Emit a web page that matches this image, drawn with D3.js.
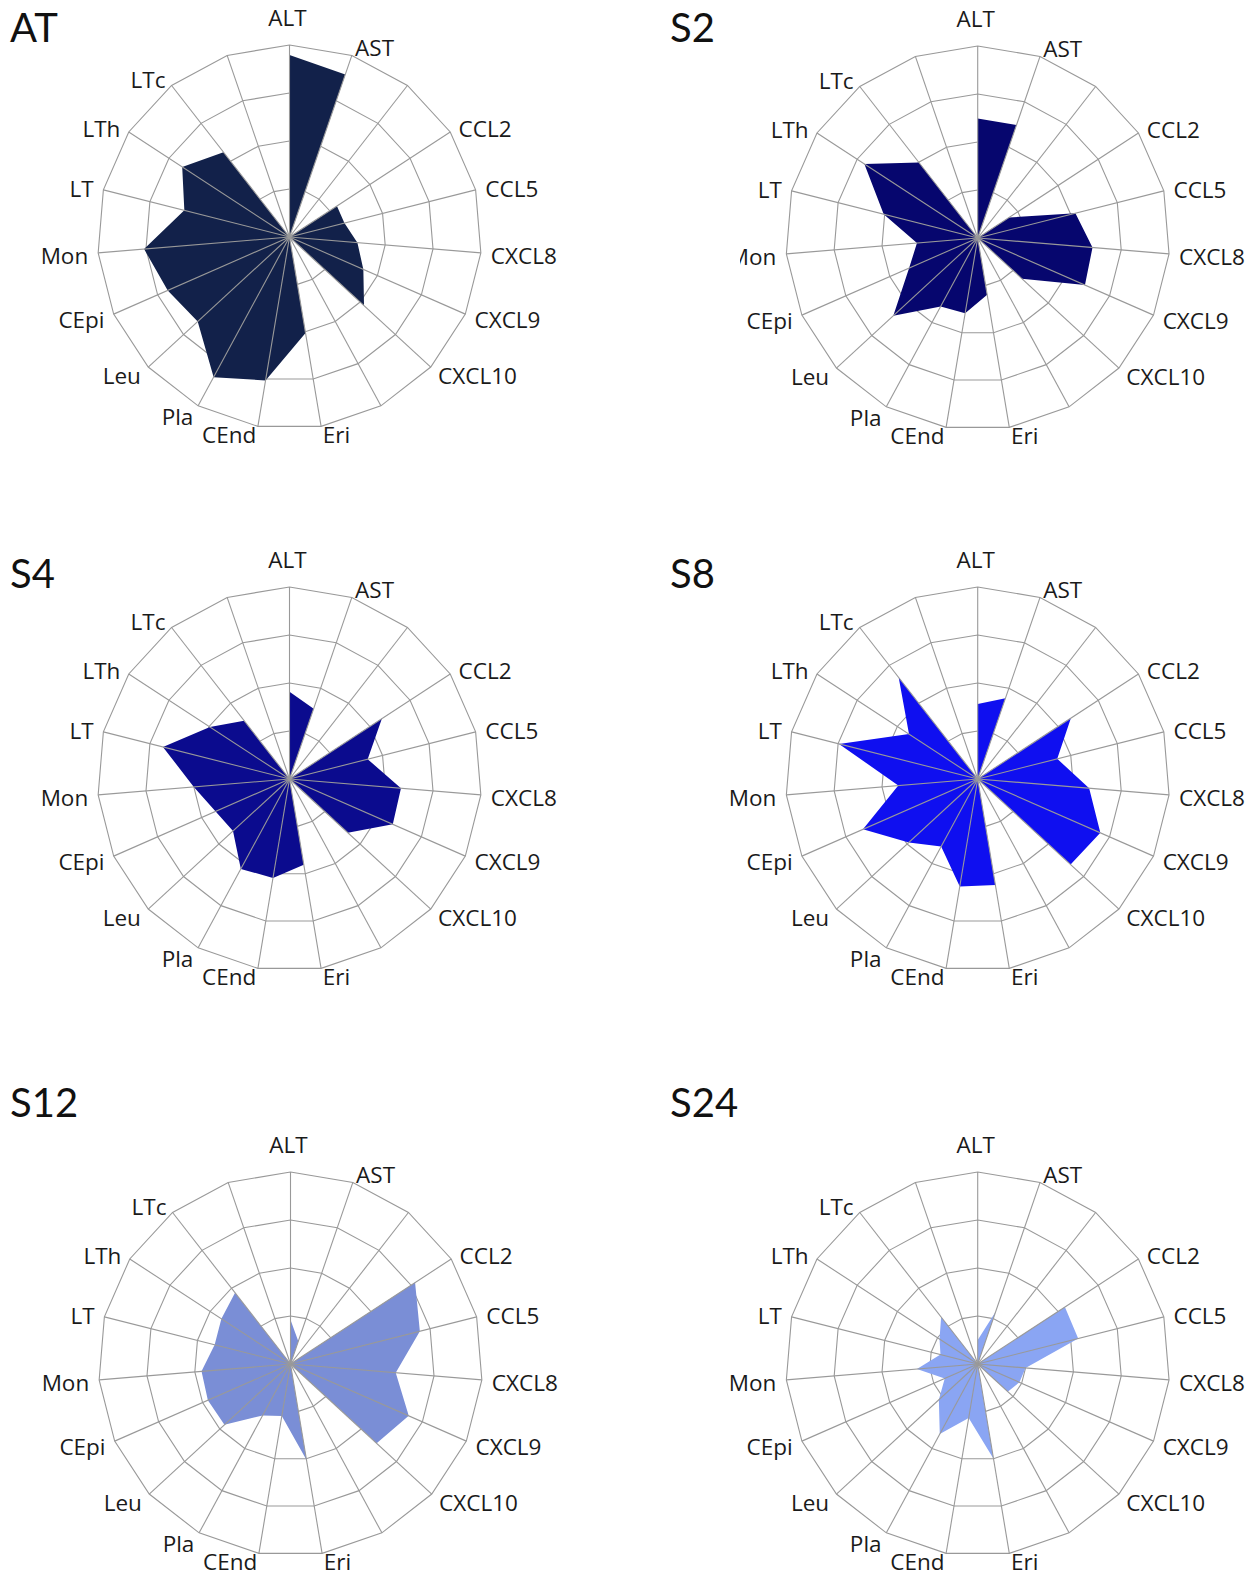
<!DOCTYPE html>
<html>
<head>
<meta charset="utf-8">
<script src="https://cdn.jsdelivr.net/npm/d3@7"></script>
<style>
  html, body { margin: 0; padding: 0; background: #ffffff; }
  svg { display: block; }
</style>
</head>
<body>
<script>
// ---------- DATA ----------
const categories = ["ALT", "AST", "", "CCL2", "CCL5", "CXCL8", "CXCL9", "CXCL10", "",
                    "Eri", "CEnd", "Pla", "Leu", "CEpi", "Mon", "LT", "LTh", "LTc", ""];
const panelNames = ["AT", "S2", "S4", "S8", "S12", "S24"];
const ringTicks = [1, 2, 3, 4];

const valuesAT  = [3.79, 3.58, 0, 1.18, 1.18, 1.42, 1.68, 2.11, 0, 2.03, 3.03, 3.32, 2.60, 2.77, 3.04, 2.26, 2.67, 2.24, 0];
const valuesS2  = [2.49, 2.49, 0, 0.78, 2.10, 2.40, 2.44, 1.25, 0, 1.20, 1.59, 1.62, 2.39, 1.56, 1.27, 2.02, 2.82, 1.99, 0];
const valuesS4  = [1.82, 1.55, 0, 2.30, 1.68, 2.33, 2.35, 1.65, 0, 1.81, 2.09, 2.13, 1.60, 1.68, 2.00, 2.72, 1.98, 1.54, 0];
const valuesS8  = [1.56, 1.78, 0, 2.32, 1.71, 2.33, 2.79, 2.63, 0, 2.24, 2.27, 1.60, 1.95, 2.61, 1.66, 2.98, 1.71, 2.68, 0];
const valuesS12 = [0.92, 0.50, 0, 3.10, 2.78, 2.20, 2.69, 2.44, 0, 2.03, 1.10, 1.22, 1.87, 1.88, 1.86, 1.63, 1.72, 1.88, 0];
const valuesS24 = [0.50, 1.15, 0, 2.17, 2.16, 1.00, 0.95, 0.85, 0, 2.00, 1.14, 1.66, 1.10, 0.75, 1.27, 0.80, 0.95, 1.24, 0];

const seriesValues = [valuesAT, valuesS2, valuesS4, valuesS8, valuesS12, valuesS24];

// ---------- LAYOUT / STYLE ----------
const W = 1255, H = 1578;
const R = 192;
const layout = [
  { cx: 289.5, cy: 237,  tx: 10,  ty: 42,   color: "#12214a", clipLeft: null },
  { cx: 977.7, cy: 238,  tx: 670, ty: 42,   color: "#06066e", clipLeft: 740 },
  { cx: 289.5, cy: 779,  tx: 10,  ty: 588,  color: "#0b0b8e", clipLeft: null },
  { cx: 977.7, cy: 779,  tx: 670, ty: 588,  color: "#0f0ff0", clipLeft: null },
  { cx: 290.5, cy: 1364, tx: 10,  ty: 1117, color: "#7a8ed6", clipLeft: null },
  { cx: 977.7, cy: 1364, tx: 670, ty: 1117, color: "#8aa5f3", clipLeft: null }
];
const gridColor = "#999999";
const titleFont = "Lato, 'Open Sans', 'DejaVu Sans', sans-serif";
const labelFont = "'Open Sans', 'Noto Sans', 'DejaVu Sans', sans-serif";

const svg = d3.select("body").append("svg")
  .attr("width", W).attr("height", H)
  .attr("viewBox", `0 0 ${W} ${H}`);

const n = categories.length;
const angle = d3.scaleLinear().domain([0, n]).range([0, 2 * Math.PI]);
const radius = d3.scaleLinear().domain([0, 4]).range([0, R]);
const idx = d3.range(n);

const defs = svg.append("defs");

panelNames.forEach((name, p) => {
  const L = layout[p];
  const vals = seriesValues[p];

  // title
  svg.append("text")
    .attr("x", L.tx).attr("y", L.ty)
    .attr("font-family", titleFont)
    .attr("font-size", 40)
    .attr("fill", "#111")
    .text(name);

  let g = svg.append("g");
  if (L.clipLeft !== null) {
    const id = "clip" + p;
    defs.append("clipPath").attr("id", id)
      .append("rect")
      .attr("x", L.clipLeft).attr("y", L.cy - 260)
      .attr("width", 600).attr("height", 520);
    g.attr("clip-path", `url(#${id})`);
  }
  const c = g.append("g").attr("transform", `translate(${L.cx},${L.cy})`);

  // rings
  const ringLine = d3.lineRadial()
    .angle(i => angle(i))
    .curve(d3.curveLinearClosed);
  c.selectAll("path.ring").data(ringTicks).join("path")
    .attr("class", "ring")
    .attr("d", t => ringLine.radius(() => radius(t))(idx))
    .attr("fill", "none")
    .attr("stroke", gridColor)
    .attr("stroke-width", 1.1);

  // series area
  const area = d3.lineRadial()
    .angle((d, i) => angle(i))
    .radius(d => radius(d))
    .curve(d3.curveLinearClosed);
  c.append("path")
    .datum(vals)
    .attr("d", area)
    .attr("fill", L.color)
    .attr("stroke", "none");

  // spokes (on top)
  c.selectAll("line.spoke").data(idx).join("line")
    .attr("class", "spoke")
    .attr("x1", 0).attr("y1", 0)
    .attr("x2", i => radius(4) * Math.sin(angle(i)))
    .attr("y2", i => -radius(4) * Math.cos(angle(i)))
    .attr("stroke", gridColor)
    .attr("stroke-width", 1.1);

  // labels
  c.selectAll("text.lab").data(idx.filter(i => categories[i] !== "")).join("text")
    .attr("class", "lab")
    .attr("font-family", labelFont)
    .attr("font-size", 22.5)
    .attr("fill", "#1a1a1a")
    .attr("dominant-baseline", "central")
    .each(function (i) {
      const a = angle(i);
      const s = Math.sin(a), co = Math.cos(a);
      const t = d3.select(this);
      if (Math.abs(s) < 0.05) {
        t.attr("text-anchor", "middle")
         .attr("x", -2)
         .attr("y", -(radius(4) + 28));
      } else {
        const rr = radius(4) + 10;
        const dy = co < -0.9 ? -2 : 1.5;
        t.attr("text-anchor", s > 0 ? "start" : "end")
         .attr("x", rr * s)
         .attr("y", -rr * co + dy);
      }
    })
    .text(i => categories[i]);
});
</script>
</body>
</html>
